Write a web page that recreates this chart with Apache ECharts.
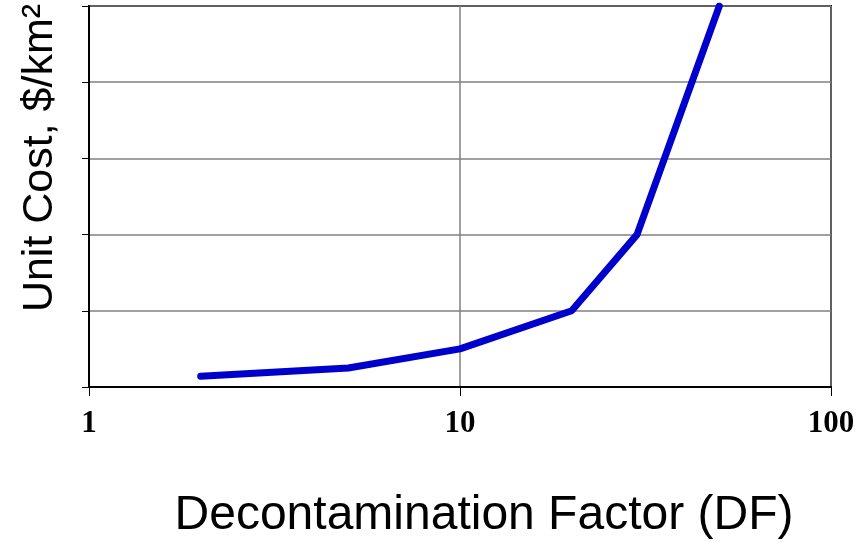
<!DOCTYPE html>
<html>
<head>
<meta charset="utf-8">
<script src="https://cdn.jsdelivr.net/npm/echarts@6/dist/echarts.min.js"></script>
<style>html,body{margin:0;padding:0;background:#fff;}#c{width:865px;height:542px;}</style>
</head>
<body>
<div id="c"></div>
<script>
const dfValues = [2, 5, 10, 20, 30, 50];
const unitCost = [0.14, 0.25, 0.5, 1, 2, 5];
const xTitle = 'Decontamination Factor (DF)';
const yTitle = 'Unit Cost, $/km²';

const chart = echarts.init(document.getElementById('c'), null, {renderer: 'canvas'});
chart.setOption({
  animation: false,
  backgroundColor: '#fff',
  grid: {left: 89, right: 34, top: 6, bottom: 155, show: true, borderColor: '#000', borderWidth: 2, backgroundColor: 'transparent'},
  xAxis: {
    type: 'log', logBase: 10, min: 1, max: 100,
    axisLine: {show: true, onZero: false, lineStyle: {color: '#000', width: 2}},
    axisTick: {show: true, length: 9, lineStyle: {color: '#000', width: 1}},
    minorTick: {show: false},
    splitLine: {show: true, lineStyle: {color: '#808080', width: 1.5}},
    axisLabel: {fontFamily: 'Liberation Serif', fontWeight: 'bold', fontSize: 31, color: '#000', margin: 21}
  },
  yAxis: {
    type: 'value', min: 0, max: 5, interval: 1,
    axisLine: {show: true, lineStyle: {color: '#000', width: 2}},
    axisTick: {show: true, length: 7, lineStyle: {color: '#000', width: 1}},
    axisLabel: {show: false},
    splitLine: {show: true, lineStyle: {color: '#808080', width: 1.5}}
  },
  series: [{
    type: 'line',
    data: dfValues.map((x, i) => [x, unitCost[i]]),
    showSymbol: false,
    symbol: 'none',
    lineStyle: {color: '#0000CC', width: 7, cap: 'round', join: 'round'}
  }],
  graphic: [
    {type: 'text', x: 40, y: 158, rotation: Math.PI / 2,
      style: {text: yTitle, font: '43px "Liberation Sans", Arial, sans-serif', fill: '#000', align: 'center', verticalAlign: 'middle'}},
    {type: 'text', x: 484, y: 516,
      style: {text: xTitle, font: '48px "Liberation Sans", Arial, sans-serif', fill: '#000', align: 'center', verticalAlign: 'middle'}}
  ]
});
</script>
</body>
</html>
